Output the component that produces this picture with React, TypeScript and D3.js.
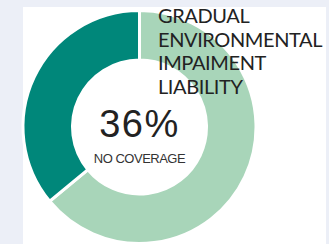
import React from "react";
import * as d3 from "d3";

const categories = ["COVERAGE", "NO COVERAGE"];
const values = [64, 36];
const colors = ["#a8d5b9", "#00877a"];
const titleLines = ["GRADUAL", "ENVIRONMENTAL", "IMPAIMENT", "LIABILITY"];
const centerValue = "36%";
const centerLabel = "NO COVERAGE";

const width = 329;
const height = 244;

const App: React.FC = () => {
  const cx = 139.5;
  const cy = 127;
  const outer = 116.5;
  const inner = 67;

  const pie = d3
    .pie<number>()
    .sort(null)
    .value((d) => d);
  const arcs = pie(values);
  const arc = d3
    .arc<d3.PieArcDatum<number>>()
    .innerRadius(inner)
    .outerRadius(outer);

  return (
    <svg
      width={width}
      height={height}
      style={{ position: "fixed", left: 0, top: 0 }}
    >
      <rect width={width} height={height} fill="#eceff7" />
      <rect x={23} y={7} width={303} height={height - 7} fill="#ffffff" />
      <g transform={`translate(${cx},${cy})`}>
        {arcs.map((a, i) => (
          <path
            key={categories[i]}
            d={arc(a)!}
            fill={colors[i]}
            stroke="#ffffff"
            strokeWidth={3}
          />
        ))}
        <text
          x={0}
          y={10}
          textAnchor="middle"
          fontFamily="Liberation Sans, Arial, sans-serif"
          fontSize={38}
          fill="#222"
          letterSpacing={1.5}
        >
          {centerValue}
        </text>
        <text
          x={0}
          y={36}
          textAnchor="middle"
          fontFamily="Liberation Sans, Arial, sans-serif"
          fontSize={13}
          fill="#333"
          letterSpacing={-0.5}
        >
          {centerLabel}
        </text>
      </g>
      {titleLines.map((t, i) => (
        <text
          key={t}
          x={158}
          y={23 + i * 23.7}
          fontFamily="Lato, sans-serif"
          fontSize={20}
          fill="#222"
          letterSpacing={-0.4}
        >
          {t}
        </text>
      ))}
    </svg>
  );
};

export default App;
